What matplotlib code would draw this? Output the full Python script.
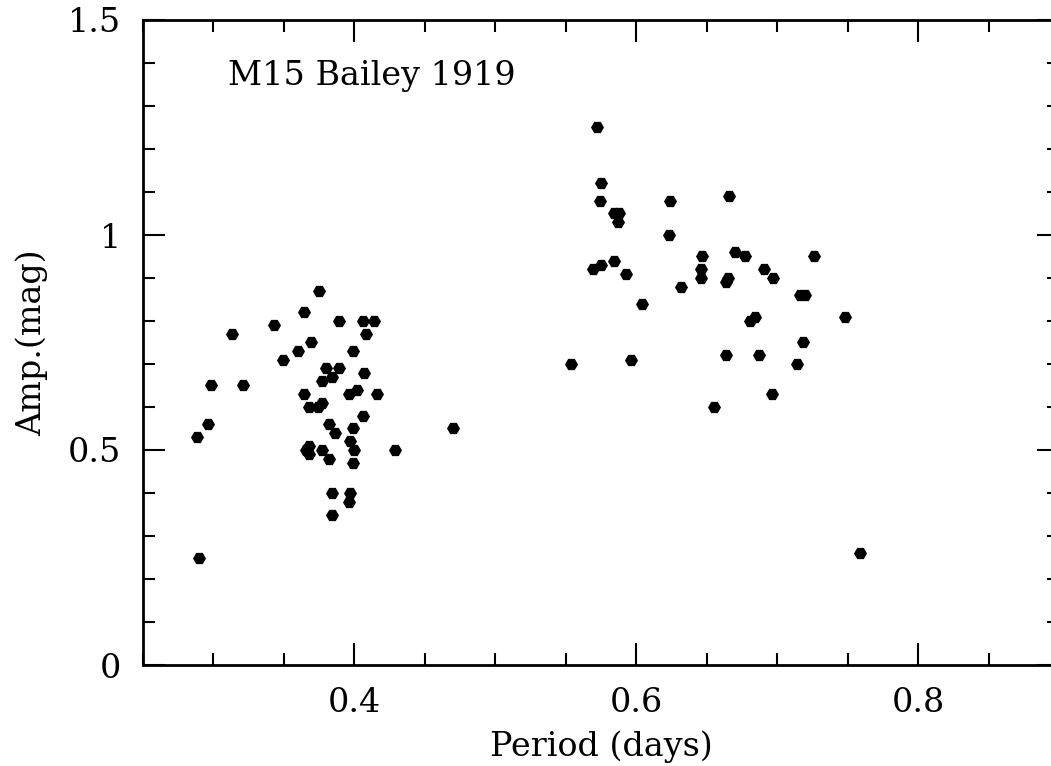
import matplotlib
matplotlib.use("Agg")
import matplotlib.pyplot as plt
from matplotlib.ticker import MultipleLocator, FixedFormatter, FixedLocator

# RR Lyrae stars in M15 (Bailey 1919): period (days) and amplitude (mag)
period_short = [0.375, 0.364, 0.343, 0.313, 0.389, 0.406, 0.414, 0.408, 0.369, 0.360,
                0.349, 0.399, 0.380, 0.389, 0.407, 0.384, 0.377, 0.298, 0.321, 0.364,
                0.396, 0.402, 0.416, 0.377, 0.368, 0.374, 0.406, 0.296, 0.382, 0.386,
                0.399, 0.288, 0.470, 0.397, 0.368, 0.366, 0.368, 0.377, 0.400, 0.429,
                0.382, 0.399, 0.384, 0.397, 0.396, 0.384, 0.290]
amp_short = [0.87, 0.82, 0.79, 0.77, 0.80, 0.80, 0.80, 0.77, 0.75, 0.73,
             0.71, 0.73, 0.69, 0.69, 0.68, 0.67, 0.66, 0.65, 0.65, 0.63,
             0.63, 0.64, 0.63, 0.61, 0.60, 0.60, 0.58, 0.56, 0.56, 0.54,
             0.55, 0.53, 0.55, 0.52, 0.51, 0.50, 0.49, 0.50, 0.50, 0.50,
             0.48, 0.47, 0.40, 0.40, 0.38, 0.35, 0.25]

period_long = [0.572, 0.575, 0.574, 0.624, 0.666, 0.584, 0.588, 0.587, 0.623, 0.647,
               0.670, 0.677, 0.726, 0.584, 0.575, 0.569, 0.593, 0.646, 0.646, 0.665,
               0.664, 0.691, 0.697, 0.632, 0.716, 0.720, 0.604, 0.748, 0.684, 0.681,
               0.718, 0.664, 0.687, 0.554, 0.596, 0.714, 0.696, 0.655, 0.759]
amp_long = [1.25, 1.12, 1.08, 1.08, 1.09, 1.05, 1.05, 1.03, 1.00, 0.95,
            0.96, 0.95, 0.95, 0.94, 0.93, 0.92, 0.91, 0.92, 0.90, 0.90,
            0.89, 0.92, 0.90, 0.88, 0.86, 0.86, 0.84, 0.81, 0.81, 0.80,
            0.75, 0.72, 0.72, 0.70, 0.71, 0.70, 0.63, 0.60, 0.26]

x_ticks = [0.4, 0.6, 0.8]
x_ticklabels = ["0.4", "0.6", "0.8"]
y_ticks = [0, 0.5, 1, 1.5]
y_ticklabels = ["0", "0.5", "1", "1.5"]

plt.rcParams['font.family'] = ['DejaVu Serif']

fig = plt.figure(figsize=(10.51, 7.66), dpi=100)
# axes runs past the right edge of the figure, as in the cropped original
ax = fig.add_axes([143 / 1051, 101 / 766, 916 / 1051, 645 / 766])

ax.scatter(period_short + period_long, amp_short + amp_long,
           marker='H', s=88, color='black', linewidths=0)

ax.set_xlim(0.25, 0.9)
ax.set_ylim(0, 1.5)

ax.xaxis.set_major_locator(FixedLocator(x_ticks))
ax.xaxis.set_major_formatter(FixedFormatter(x_ticklabels))
ax.xaxis.set_minor_locator(MultipleLocator(0.05))
ax.yaxis.set_major_locator(FixedLocator(y_ticks))
ax.yaxis.set_major_formatter(FixedFormatter(y_ticklabels))
ax.yaxis.set_minor_locator(MultipleLocator(0.1))

ax.tick_params(which='both', direction='in', top=True, right=True, width=1.5)
ax.tick_params(which='major', length=16, labelsize=24, pad=16)
ax.tick_params(which='minor', length=8.5)
for s in ax.spines.values():
    s.set_linewidth(2)

ax.set_xlabel("Period (days)", fontsize=24, labelpad=8)
ax.set_ylabel("Amp.(mag)", fontsize=24, labelpad=14)
ax.text(0.310, 1.349, "M15 Bailey 1919", fontsize=24, va='baseline')

fig.savefig("out.png", dpi=100)
